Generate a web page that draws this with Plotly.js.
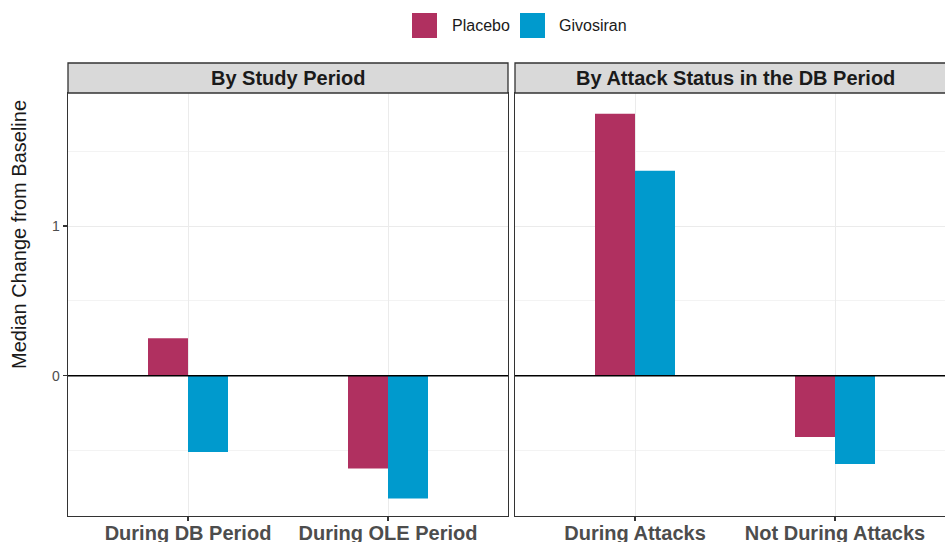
<!DOCTYPE html>
<html>
<head>
<meta charset="utf-8">
<script src="https://cdn.plot.ly/plotly-3.0.1.min.js"></script>
<style>
  html, body { margin: 0; padding: 0; background: #fff; overflow: hidden; }
  #chart { width: 960px; height: 542px; }
</style>
</head>
<body>
<div id="chart"></div>
<script>
// Median change from baseline, faceted by study period and by attack status
const categoriesPeriod = ['During DB Period', 'During OLE Period'];
const categoriesAttack = ['During Attacks', 'Not During Attacks'];
const placeboPeriod = [0.25, -0.62];
const givosiranPeriod = [-0.51, -0.82];
const placeboAttack = [1.75, -0.41];
const givosiranAttack = [1.37, -0.59];
const seriesNames = ['Placebo', 'Givosiran'];
const seriesColors = ['#B03060', '#009ACD'];
const panelTitles = ['By Study Period', 'By Attack Status in the DB Period'];
const yTitle = 'Median Change from Baseline';

const FONT = 'Liberation Sans, Arial, Helvetica, sans-serif';

function bar(x, y, i, xa, ya) {
  return {
    type: 'bar', x: x, y: y, name: seriesNames[i],
    xaxis: xa, yaxis: ya, showlegend: false,
    marker: { color: seriesColors[i], line: { width: 0 } },
    hoverinfo: 'x+y+name'
  };
}

const traces = [
  bar(categoriesPeriod, placeboPeriod, 0, 'x', 'y'),
  bar(categoriesPeriod, givosiranPeriod, 1, 'x', 'y'),
  bar(categoriesAttack, placeboAttack, 0, 'x2', 'y2'),
  bar(categoriesAttack, givosiranAttack, 1, 'x2', 'y2')
];

const W = 960, H = 542;
const M = { l: 68, r: 5, t: 93, b: 26 };
const plotW = W - M.l - M.r;
const plotH = H - M.t - M.b;
const gapPx = 7;
const panelW = (plotW - gapPx) / 2;
const yRange = [-0.937, 1.889];

function xAxis(domain, cats) {
  return {
    domain: domain,
    type: 'category',
    categoryarray: cats,
    range: [-0.6, 1.6],
    showgrid: true, gridcolor: '#EBEBEB', gridwidth: 1,
    showline: true, mirror: true, linecolor: '#333333', linewidth: 1.3,
    ticks: 'outside', ticklen: 4, tickcolor: '#333333', tickwidth: 1.2,
    ticklabelstandoff: -5,
    tickfont: { family: FONT, size: 20, color: '#4D4D4D', weight: 'bold' },
    zeroline: false, fixedrange: true
  };
}

function yAxis(anchor, showLabels) {
  return {
    anchor: anchor,
    range: yRange,
    tickmode: 'linear', tick0: 0, dtick: 1,
    showgrid: true, gridcolor: '#EBEBEB', gridwidth: 1,
    minor: { tick0: 0, dtick: 0.5, showgrid: true, gridcolor: '#F3F3F3', gridwidth: 1, ticks: '' },
    showline: true, mirror: true, linecolor: '#333333', linewidth: 1.3,
    ticks: showLabels ? 'outside' : '', ticklen: 4, tickcolor: '#333333', tickwidth: 1.2,
    showticklabels: showLabels,
    tickfont: { family: FONT, size: 14, color: '#4D4D4D' },
    zeroline: false, fixedrange: true
  };
}

const stripH = 30 / plotH;
const shapes = [];
const annotations = [];
[['x', 'y'], ['x2', 'y2']].forEach(function (ax, k) {
  // facet strip
  shapes.push({
    type: 'rect', xref: ax[0] + ' domain', yref: ax[1] + ' domain',
    x0: 0, x1: 1, y0: 1, y1: 1 + stripH,
    fillcolor: '#D9D9D9', line: { color: '#333333', width: 1.3 }, layer: 'above'
  });
  annotations.push({
    xref: ax[0] + ' domain', yref: ax[1] + ' domain',
    x: 0.5, y: 1 + stripH / 2, xanchor: 'center', yanchor: 'middle',
    text: '<b>' + panelTitles[k] + '</b>', showarrow: false,
    font: { family: FONT, size: 20, color: '#1A1A1A' }
  });
  // reference line at zero, drawn over the bars
  shapes.push({
    type: 'line', xref: ax[0] + ' domain', yref: ax[1],
    x0: 0, x1: 1, y0: 0, y1: 0,
    line: { color: '#000000', width: 1.6 }, layer: 'above'
  });
});

// legend keys and labels across the top
const px = function (v) { return (v - M.l) / plotW; };
const py = function (v) { return (H - M.b - v) / plotH; };
const keyLeft = [412, 520];
const labelLeft = [450, 557];
seriesNames.forEach(function (name, i) {
  shapes.push({
    type: 'rect', xref: 'paper', yref: 'paper',
    x0: px(keyLeft[i]), x1: px(keyLeft[i] + 25), y0: py(38), y1: py(13),
    fillcolor: seriesColors[i], line: { width: 0 }
  });
  annotations.push({
    xref: 'paper', yref: 'paper', x: px(labelLeft[i]), y: py(25.5),
    xanchor: 'left', yanchor: 'middle', text: name, showarrow: false,
    font: { family: FONT, size: 16, color: '#1A1A1A' }
  });
});

// y axis title
annotations.push({
  xref: 'paper', yref: 'paper', x: px(19), y: py(235),
  xanchor: 'center', yanchor: 'middle', textangle: -90,
  text: yTitle, showarrow: false,
  font: { family: FONT, size: 20, color: '#1A1A1A' }
});

const layout = {
  width: W, height: H,
  margin: M,
  paper_bgcolor: '#FFFFFF', plot_bgcolor: '#FFFFFF',
  font: { family: FONT },
  barmode: 'group', bargap: 0.6, bargroupgap: 0,
  showlegend: false,
  xaxis: xAxis([0, panelW / plotW], categoriesPeriod),
  xaxis2: xAxis([(panelW + gapPx) / plotW, 1], categoriesAttack),
  yaxis: yAxis('x', true),
  yaxis2: yAxis('x2', false),
  shapes: shapes,
  annotations: annotations
};
layout.xaxis.anchor = 'y';
layout.xaxis2.anchor = 'y2';

Plotly.newPlot('chart', traces, layout, { displayModeBar: false, staticPlot: true });
</script>
</body>
</html>
